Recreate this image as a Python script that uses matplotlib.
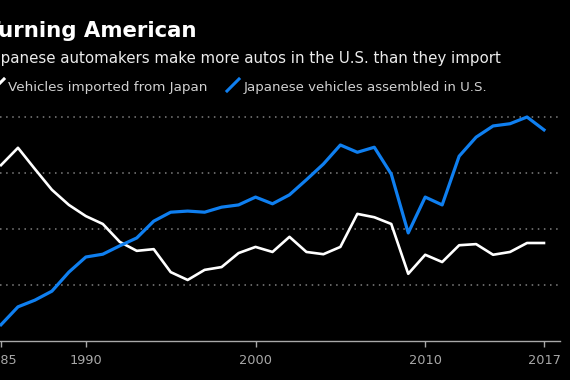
import matplotlib.pyplot as plt
from matplotlib.lines import Line2D

years = list(range(1985, 2018))

# millions of vehicles
imported = [3.14, 3.45, 3.07, 2.70, 2.43, 2.23, 2.09, 1.77, 1.61, 1.64,
            1.23, 1.09, 1.27, 1.32, 1.57, 1.68, 1.59, 1.86, 1.59, 1.55,
            1.68, 2.27, 2.21, 2.09, 1.20, 1.54, 1.41, 1.71, 1.73, 1.54,
            1.59, 1.75, 1.75]
assembled = [0.29, 0.61, 0.73, 0.89, 1.23, 1.50, 1.55, 1.70, 1.84, 2.14,
             2.30, 2.32, 2.30, 2.39, 2.43, 2.57, 2.45, 2.61, 2.88, 3.16,
             3.50, 3.37, 3.46, 2.98, 1.93, 2.57, 2.43, 3.30, 3.64, 3.84,
             3.88, 4.00, 3.77]

tick_years = [1985, 1990, 2000, 2010, 2017]
tick_labels = ['1985', '1990', '2000', '2010', '2017']
grid_levels = [1, 2, 3, 4]

BLUE = '#0f7ff0'
GREY = '#a8a8a8'
W, H = 570, 380

plt.rcParams['font.family'] = 'DejaVu Sans'

fig = plt.figure(figsize=(5.7, 3.8), dpi=100, facecolor='black')
ax = fig.add_axes([0, 39 / H, 560 / W, 4.2 * 56 / H])
ax.set_facecolor('black')

ax.plot(years, imported, color='white', lw=1.9, zorder=3)
ax.plot(years, assembled, color=BLUE, lw=2.3, zorder=3)

ax.set_xlim(1985 - 1 / 16.95, 2017 + 16 / 16.95)
ax.set_ylim(0, 4.2)

for lvl in grid_levels:
    ax.axhline(lvl, color='#808080', lw=1.1, ls=(0, (1, 3)), zorder=1)

for s in ['top', 'left', 'right']:
    ax.spines[s].set_visible(False)
ax.spines['bottom'].set_color(GREY)
ax.spines['bottom'].set_linewidth(1)
ax.set_yticks([])
ax.set_xticks(tick_years)
ax.set_xticklabels(tick_labels, fontsize=9.3, color=GREY)
ax.tick_params(axis='x', direction='out', length=4.5, width=1, color=GREY, pad=5.2)

# title block (left edge is cropped like the original)
fig.text(-14.5 / W, 1 - 37 / H, 'Turning American', color='white', fontsize=15.3,
         fontweight='bold', va='baseline', ha='left')
fig.text(-12 / W, 1 - 63.5 / H,
         'Japanese automakers make more autos in the U.S. than they import',
         color='#ececec', fontsize=10.8, va='baseline', ha='left')

# legend
fig.add_artist(Line2D([-8 / W, 4 / W], [1 - 91 / H, 1 - 79 / H],
                      color='white', lw=2.2, transform=fig.transFigure))
fig.text(8.5 / W, 1 - 91 / H, 'Vehicles imported from Japan', color='#d0d0d0',
         fontsize=9.7, va='baseline', ha='left')
fig.add_artist(Line2D([227 / W, 239 / W], [1 - 91 / H, 1 - 79 / H],
                      color=BLUE, lw=2.2, transform=fig.transFigure))
fig.text(244 / W, 1 - 91 / H, 'Japanese vehicles assembled in U.S.', color='#d0d0d0',
         fontsize=9.65, va='baseline', ha='left')

fig.savefig('out.png', dpi=100, facecolor='black')
